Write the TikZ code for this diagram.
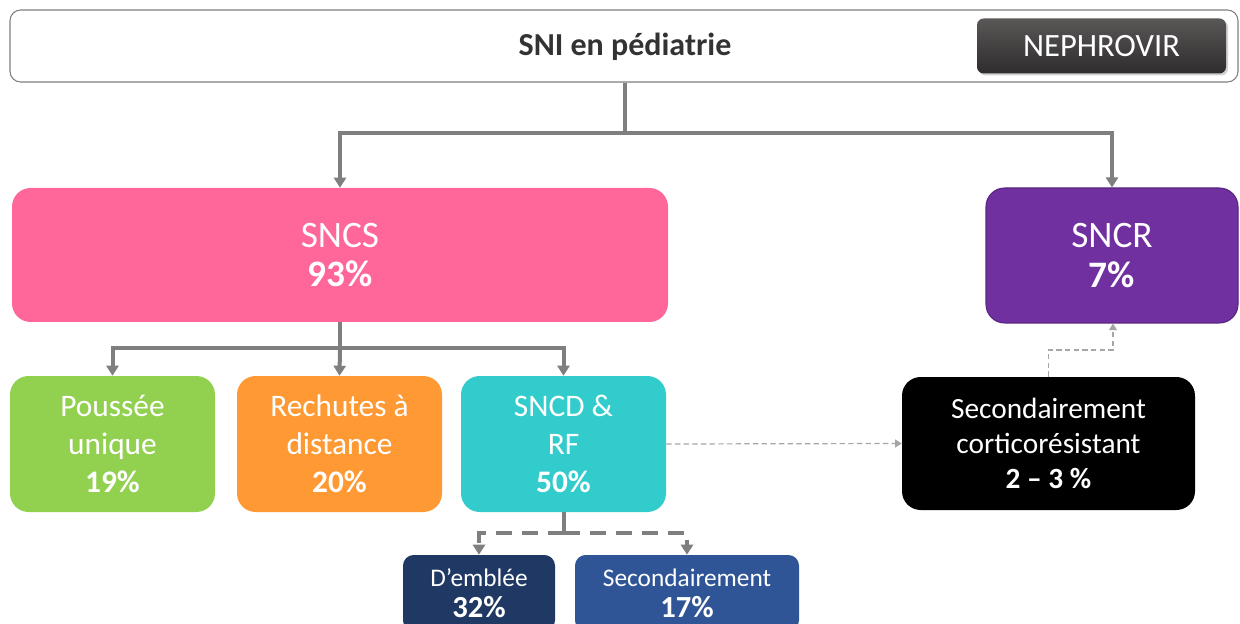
\documentclass[tikz,border=0pt]{standalone}
\usepackage{fontspec}
\setmainfont{Carlito}
\usetikzlibrary{arrows.meta,shadows}
\definecolor{linegray}{HTML}{7F7F7F}
\definecolor{thingray}{HTML}{A6A6A6}
\definecolor{cpink}{HTML}{FF6699}
\definecolor{cpurple}{HTML}{7030A0}
\definecolor{cgreen}{HTML}{92D050}
\definecolor{corange}{HTML}{FF9933}
\definecolor{cteal}{HTML}{33CCCC}
\definecolor{cnavy}{HTML}{1F3864}
\definecolor{cblue}{HTML}{2F5597}
\definecolor{btntop}{HTML}{5A5757}
\definecolor{btnbot}{HTML}{2E2C2C}
\begin{document}
\begin{tikzpicture}[x=0.75pt,y=-0.75pt,
  box/.style={rounded corners=14pt, text=white, align=center, inner sep=0pt},
  smallbox/.style={rounded corners=8pt, text=white, align=center, inner sep=0pt},
  fbig/.style={font=\fontsize{28}{29.5}\selectfont},
  fmid/.style={font=\fontsize{23.5}{28.5}\selectfont},
  fcor/.style={font=\fontsize{22}{26.3}\selectfont},
  fsmall/.style={font=\fontsize{19}{23.5}\selectfont},
  link/.style={draw=linegray, line width=3pt},
  linkarrow/.style={link, -{Triangle[width=9pt,length=7.5pt]}},
  splitarrow/.style={draw=linegray, line width=3.5pt, dash pattern=on 12pt off 7.5pt, -{Triangle[width=9pt,length=7.5pt]}},
  thinarrow/.style={draw=thingray, line width=0.9pt, dash pattern=on 4pt off 2.5pt, -{Triangle[width=6pt,length=5pt]}}
]
\useasboundingbox (0,0) rectangle (1240,624);
\clip (0,0) rectangle (1240,624);
\fill[white] (0,0) rectangle (1240,624);

% header bar
\node[draw=linegray, line width=0.8pt, rounded corners=8pt, minimum width=1228*0.75pt, minimum height=72*0.75pt, inner sep=0pt] (title) at (624,46) {};
\node[font=\fontsize{24}{28}\selectfont\bfseries, text=black!80] (titletext) at (625,47) {SNI en pédiatrie};
\node[rounded corners=5pt, top color=btntop, bottom color=btnbot, drop shadow={opacity=0.35, shadow xshift=1.5pt, shadow yshift=-1.5pt},
      minimum width=249*0.75pt, minimum height=55*0.75pt, inner sep=0pt, text=white, font=\fontsize{24.4}{28}\selectfont] (logo) at (1101.5,46) {NEPHROVIR};

% first level
\node[box, fill=cpink, fbig, minimum width=656*0.75pt, minimum height=134*0.75pt] (sncs) at (340,255) {SNCS\\\textbf{93\%}};
\node[box, fill=cpurple, draw=cpurple!80!black, line width=0.8pt, fbig, minimum width=252*0.75pt, minimum height=135*0.75pt] (sncr) at (1112,255.5) {SNCR\\\textbf{7\%}};

% second level
\node[box, fill=cgreen, fmid, minimum width=205*0.75pt, minimum height=136*0.75pt] (pou) at (112.5,444) {Poussée\\unique\\\textbf{19\%}};
\node[box, fill=corange, fmid, minimum width=205*0.75pt, minimum height=136*0.75pt] (rec) at (339.5,444) {Rechutes à\\distance\\\textbf{20\%}};
\node[box, fill=cteal, fmid, minimum width=205*0.75pt, minimum height=136*0.75pt] (sncd) at (563.5,444) {SNCD \&\\RF\\\textbf{50\%}};
\node[box, fill=black, fcor, minimum width=293*0.75pt, minimum height=133*0.75pt] (cort) at (1048.5,443.5) {Secondairement\\corticorésistant\\\textbf{2 – 3 \%}};

% third level
\node[smallbox, fill=cnavy, fsmall, minimum width=152*0.75pt, minimum height=76*0.75pt] (emb) at (479,593) {D’emblée\\\textbf{\fontsize{23}{23.5}\selectfont 32\%}};
\node[smallbox, fill=cblue, fsmall, minimum width=224*0.75pt, minimum height=76*0.75pt] (sec) at (687,593) {Secondairement\\\textbf{\fontsize{23}{23.5}\selectfont 17\%}};

% connectors
\coordinate (j1) at (625,133);
\coordinate (j2) at (340,348);
\coordinate (j3) at (563.5,533);
\draw[link] (title.south -| j1) -- (j1);
\draw[linkarrow] (j1) -| (sncs.north);
\draw[linkarrow] (j1) -| (sncr.north);
\draw[link] (sncs.south) -- (j2);
\draw[linkarrow] (j2) -| (pou.north);
\draw[linkarrow] (j2) -- (rec.north);
\draw[linkarrow] (j2) -| (sncd.north);
\draw[link] (sncd.south) -- ([yshift=1.5pt]j3);
\draw[splitarrow] (j3) -| (emb.north);
\draw[splitarrow] (j3) -| (sec.north);
\draw[thinarrow] (sncd.east) -- (cort.west);
\draw[thinarrow] (cort.north) |- (1113,350) -- (sncr.south -| 1113,0);
\end{tikzpicture}
\end{document}
